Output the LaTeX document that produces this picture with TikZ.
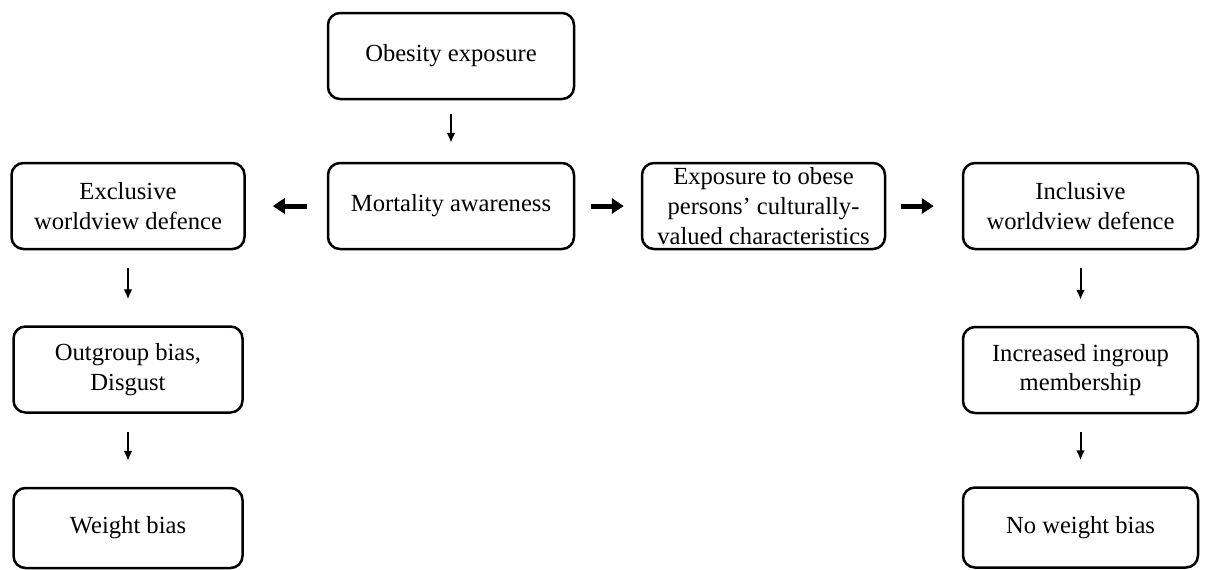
\documentclass[tikz,border=0pt]{standalone}
\usepackage{fontspec}
\setmainfont{Liberation Serif}
\usetikzlibrary{arrows.meta}

\begin{document}
\begin{tikzpicture}[x=0.5pt,y=-0.5pt,
  box/.style={draw,line width=1.25pt,rounded corners=6pt,minimum height=43pt,
    align=center,inner sep=0pt,font=\fontsize{12.3}{14.8}\selectfont},
  thin/.style={-{Latex[length=5pt,width=4.5pt]},line width=1pt,shorten <=9pt,shorten >=13pt},
  thick/.style={-{Triangle[length=6pt,width=7.5pt]},line width=2.5pt}]
\useasboundingbox (0,0) rectangle (1205,569);

\node [box,minimum width=123pt] (obesity) at (451,56) {Obesity exposure};
\node [box,minimum width=123pt] (mortality) at (451,206) {Mortality awareness};
\node [box,minimum width=116.5pt] (exclusive) at (128,206) {Exclusive\\worldview defence};
\node [box,minimum width=121.5pt] (exposure) at (763.5,206) {Exposure to obese\\persons' culturally-\\valued characteristics};
\node [box,minimum width=117.5pt] (inclusive) at (1080.5,206) {Inclusive\\worldview defence};
\node [box,minimum width=114.5pt] (outgroup) at (128,369.5) {Outgroup bias,\\Disgust};
\node [box,minimum width=117.5pt] (ingroup) at (1080.5,370) {Increased ingroup\\membership};
\node [box,minimum width=114.5pt,minimum height=40pt] (weight) at (128,528) {Weight bias};
\node [box,minimum width=117.5pt,minimum height=40pt] (noweight) at (1080.5,527.5) {No weight bias};

\draw [thin,shorten <=7pt,shorten >=9.5pt] (obesity) -- (mortality);
\foreach \a/\b in {exclusive/outgroup,outgroup/weight,inclusive/ingroup,ingroup/noweight}
\draw [thin] (\a) -- (\b);

\draw [thick,shorten <=10pt,shorten >=13.5pt] (mortality) -- (exclusive);
\draw [thick,shorten <=8pt,shorten >=8.5pt] (mortality) -- (exposure);
\draw [thick,shorten <=7.5pt,shorten >=14pt] (exposure) -- (inclusive);
\end{tikzpicture}
\end{document}
